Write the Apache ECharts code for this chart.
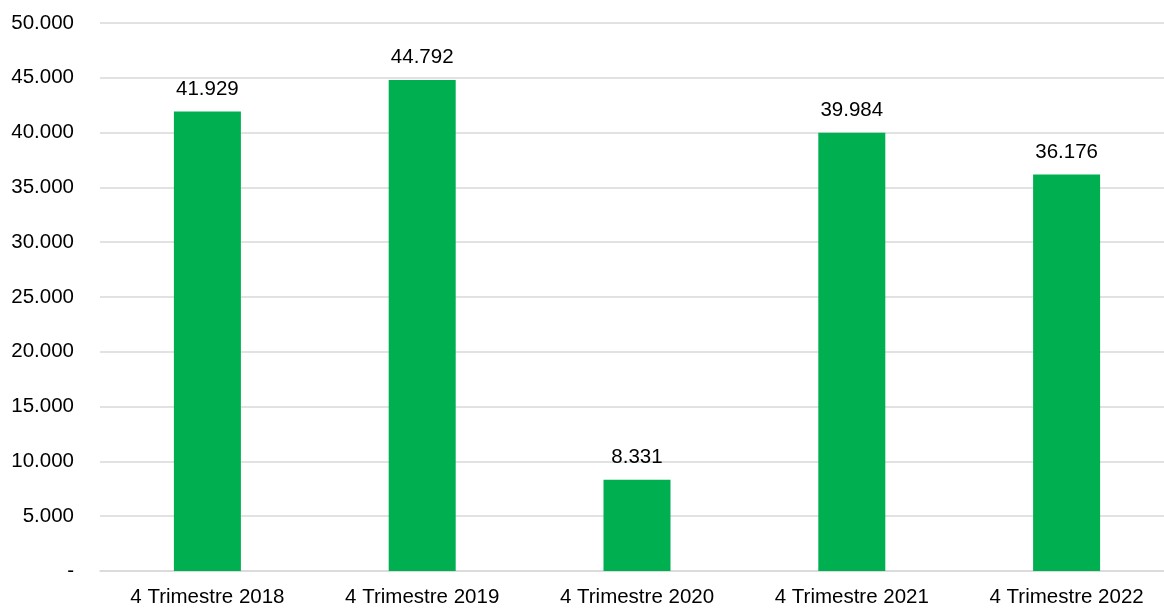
<!DOCTYPE html>
<html><head><meta charset="utf-8">
<script src="https://cdn.jsdelivr.net/npm/echarts@6/dist/echarts.min.js"></script>
<style>html,body{margin:0;padding:0;overflow:hidden;background:#fff}#c{width:1174px;height:608px}</style>
</head><body><div id="c"></div>
<script>
const categories = ["4 Trimestre 2018","4 Trimestre 2019","4 Trimestre 2020","4 Trimestre 2021","4 Trimestre 2022"];
const values = [41929, 44792, 8331, 39984, 36176];
const yMin = 0, yMax = 50000, yStep = 5000;

function fmt(v){
  if (v === 0) return '-';
  return String(Math.round(v)).replace(/\B(?=(\d{3})+(?!\d))/g, '.');
}
const font = 'Liberation Sans, Arial, Helvetica, sans-serif';
const fs = 20.5;
const chart = echarts.init(document.getElementById('c'), null, {renderer:'canvas'});
chart.setOption({
  animation:false,
  grid:{left:100, right:0, top:23, bottom:36},
  xAxis:{type:'category', data:categories,
    axisLine:{show:true, lineStyle:{color:'#d9d9d9', width:1.5}},
    axisTick:{show:false},
    axisLabel:{color:'#000', fontSize:fs, fontFamily:font, margin:16}},
  yAxis:{type:'value', min:yMin, max:yMax, interval:yStep,
    axisLine:{show:false}, axisTick:{show:false},
    splitLine:{lineStyle:{color:'#d9d9d9', width:1.5}},
    axisLabel:{color:'#000', fontSize:fs, fontFamily:font, margin:26, formatter:fmt}},
  series:[{type:'bar', data:values, barWidth:67,
    itemStyle:{color:'#00B050'},
    label:{show:true, position:'top', distance:12, color:'#000', fontSize:fs, fontFamily:font, formatter:p=>fmt(p.value)}}]
});
</script></body></html>
